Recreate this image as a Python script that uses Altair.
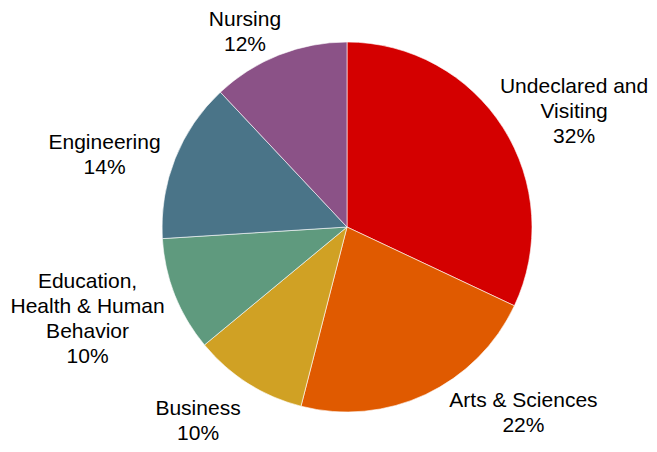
import altair as alt
import pandas as pd

categories = ["Undeclared and Visiting", "Arts & Sciences", "Business",
              "Education, Health & Human Behavior", "Engineering", "Nursing"]
label_lines = ["Undeclared and\nVisiting", "Arts & Sciences", "Business",
               "Education,\nHealth & Human\nBehavior", "Engineering", "Nursing"]
shares = [32, 22, 10, 10, 14, 12]
colors = ["#D40000", "#E05A00", "#D0A124", "#5F9A7E", "#4A7488", "#8B5287"]

# label fine-tuning offsets (styling, not data)
label_dx = [16, 70, -15, -27, -10, -10]
label_dy = [-6, -52, -29, -37, 8, 25]

df = pd.DataFrame({
    "category": categories,
    "label": [f"{l}\n{v}%" for l, v in zip(label_lines, shares)],
    "share": shares,
    "order": list(range(len(categories))),
})

CX, CY = 339, 219

base = alt.Chart(df)

pie = base.mark_arc(outerRadius=185, stroke="#ffffff", strokeWidth=0.6).encode(
    theta=alt.Theta("share:Q", stack=True),
    order=alt.Order("order:Q"),
    color=alt.Color("category:N", scale=alt.Scale(domain=categories, range=colors), legend=None),
    x=alt.value(CX),
    y=alt.value(CY),
)

layers = [pie]
for i, cat in enumerate(categories):
    t = (
        base.transform_window(cum="sum(share)", sort=[alt.SortField("order")])
        .transform_calculate(mid="datum.cum - datum.share / 2")
        .transform_filter(alt.datum.category == cat)
        .mark_text(radius=250, dx=label_dx[i], dy=label_dy[i], font="Liberation Sans",
                   fontSize=21, lineBreak="\n", lineHeight=25, color="#000000",
                   align="center", baseline="middle")
        .encode(
            theta=alt.Theta("mid:Q", scale=alt.Scale(domain=[0, 100], range=[0, 6.283185307179586])),
            text="label:N",
            x=alt.value(CX),
            y=alt.value(CY),
        )
    )
    layers.append(t)

chart = alt.layer(*layers).properties(
    width=641, height=436, autosize=alt.AutoSizeParams(type="none"), padding=0
).configure_view(stroke=None)

chart.save("out.html", embed_options={"renderer": "svg", "actions": False})
